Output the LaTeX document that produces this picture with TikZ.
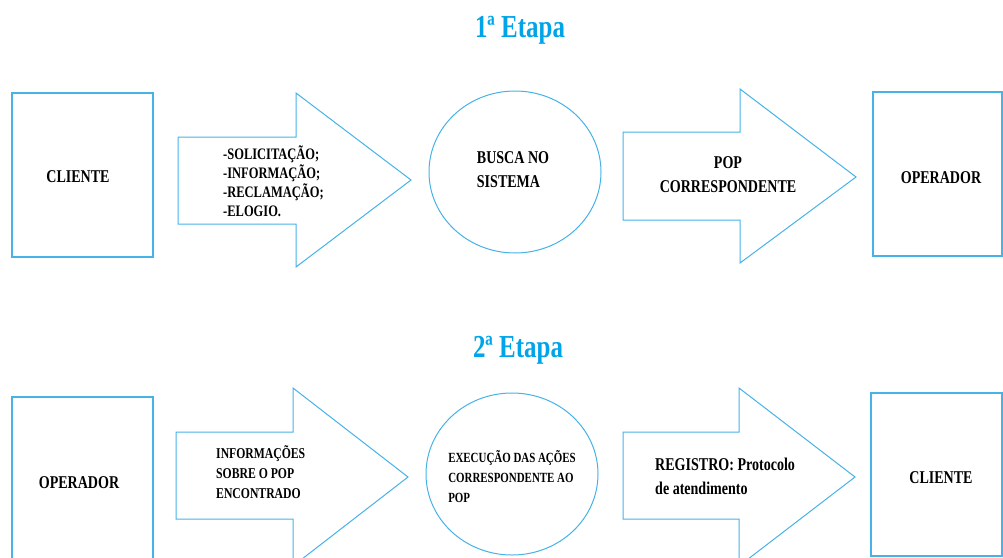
\documentclass[tikz,border=0pt]{standalone}
\usepackage{fontspec}
\setmainfont{Liberation Serif}[FakeStretch=0.78]
\usetikzlibrary{shapes.geometric}
\definecolor{etapablue}{RGB}{0,164,232}
\definecolor{lineblue}{RGB}{70,178,232}
\tikzset{
  box/.style={draw=lineblue, line width=1.5pt, minimum width=141pt, minimum height=164pt, inner sep=0pt},
  blockarrow/.style={draw=lineblue, line width=1pt, line join=miter},
  oval/.style={draw=lineblue, line width=1pt, ellipse, minimum width=172pt, minimum height=162pt, inner sep=0pt},
  etapa/.style={text=etapablue, font=\fontsize{32}{36}\selectfont\bfseries, inner sep=0pt},
  txt/.style={font=\fontsize{18}{24}\selectfont\bfseries, align=left, inner sep=0pt},
}
\begin{document}
\begin{tikzpicture}[x=1pt, y=-1pt]
\clip (0,0) rectangle (1003,557);
% 1a etapa
\node (etapa1) at (520,37)[etapa, anchor=base]{1ª Etapa};
\node (cliente1) at (82.5,175)[box]{};
\node (cliente1txt) at (78,177)[txt]{CLIENTE};
\draw[blockarrow](178,137)--(296,137)--(296,93)--(411,180)--(296,267)--(296,224)--(178,224)--cycle;
\node (pedido) at (223,181)[txt, anchor=west, font=\fontsize{16}{19}\selectfont\bfseries]{-SOLICITAÇÃO;\\-INFORMAÇÃO;\\-RECLAMAÇÃO;\\-ELOGIO.};
\node (busca) at (515,172)[oval]{};
\node (buscatxt) at (513,169.5)[txt]{BUSCA NO\\SISTEMA};
\draw[blockarrow](623,132)--(740,132)--(740,89)--(856,177)--(740,263)--(740,220)--(623,220)--cycle;
\node (pop) at (728,175)[txt, align=center]{POP\\CORRESPONDENTE};
\node (operador1) at (937.5,174)[box, minimum width=129pt]{};
\node (operador1txt) at (941,178)[txt]{OPERADOR};
% 2a etapa
\node (etapa2) at (518,357)[etapa, anchor=base]{2ª Etapa};
\node (operador2) at (82.5,479)[box]{};
\node (operador2txt) at (79,483)[txt]{OPERADOR};
\draw[blockarrow](176,432)--(293,432)--(293,388)--(408,477)--(293,566)--(293,519)--(176,519)--cycle;
\node (infopop) at (216,472)[txt, anchor=west, font=\fontsize{15}{20}\selectfont\bfseries]{INFORMAÇÕES\\SOBRE O POP\\ENCONTRADO};
\node (execucao) at (512,474)[oval]{};
\node (execucaotxt) at (512,477)[txt, font=\fontsize{14}{20}\selectfont\bfseries]{EXECUÇÃO DAS AÇÕES\\CORRESPONDENTE AO\\POP};
\draw[blockarrow](623,432)--(739,432)--(739,388)--(855,477)--(739,566)--(739,519)--(623,519)--cycle;
\node (registro) at (655,476)[txt, anchor=west]{REGISTRO: Protocolo\\de atendimento};
\node (cliente2) at (936.5,474.5)[box, minimum width=131pt, minimum height=163pt]{};
\node (cliente2txt) at (941,478)[txt]{CLIENTE};
\end{tikzpicture}
\end{document}
